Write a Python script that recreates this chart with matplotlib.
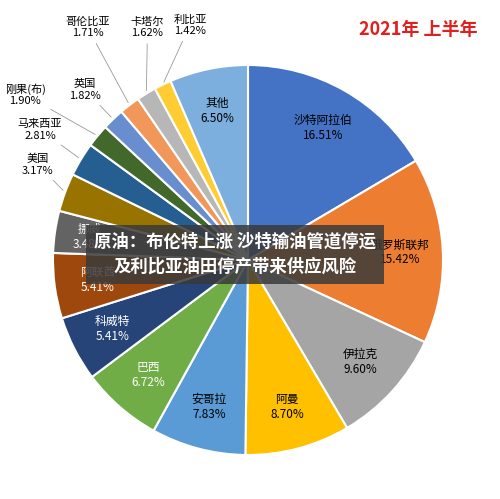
import numpy as np
import matplotlib.pyplot as plt

plt.rcParams['font.family'] = ['Noto Sans CJK SC', 'DejaVu Sans']

names = ['沙特阿拉伯', '俄罗斯联邦', '伊拉克', '阿曼', '安哥拉', '巴西', '科威特', '阿联酋', '挪威',
         '美国', '马来西亚', '刚果(布)', '英国', '哥伦比亚', '卡塔尔', '利比亚', '其他']
shares = [16.51, 15.42, 9.60, 8.70, 7.83, 6.72, 5.41, 5.41, 3.48,
          3.17, 2.81, 1.90, 1.82, 1.71, 1.62, 1.42, 6.50]
colors = ['#4472C4', '#ED7D31', '#A5A5A5', '#FFC000', '#5B9BD5', '#70AD47', '#264478', '#9E480E', '#636363',
          '#997300', '#255E91', '#43682B', '#698ED0', '#F1975A', '#B7B7B7', '#FFCD33', '#7CAFDD']
white_labels = ['巴西', '科威特', '阿联酋', '挪威']
# outside label positions (figure fraction) for small slices
outside = {'美国': (0.075, 0.67), '马来西亚': (0.08, 0.74), '刚果(布)': (0.05, 0.81),
           '英国': (0.17, 0.82), '哥伦比亚': (0.175, 0.945), '卡塔尔': (0.295, 0.945), '利比亚': (0.38, 0.95)}

fig = plt.figure(figsize=(5, 4.99), dpi=100)
ax = fig.add_axes([53/500, 44/499, 390/500, 390/499])
wedges, _ = ax.pie(shares, colors=colors, startangle=90, counterclock=False,
                   wedgeprops=dict(edgecolor='white', linewidth=1.5))
ax.set_xlim(-1, 1); ax.set_ylim(-1, 1)

for w, n, s in zip(wedges, names, shares):
    a = np.deg2rad((w.theta1 + w.theta2) / 2)
    lab = f'{n}\n{s:.2f}%'
    if n in outside:
        ax.annotate(lab, xy=(np.cos(a), np.sin(a)), xytext=outside[n], textcoords='figure fraction',
                    ha='center', va='center', fontsize=8,
                    arrowprops=dict(arrowstyle='-', color='#999999', lw=0.6))
    else:
        r = 0.78 if s > 5 else 0.82
        ax.text(r * np.cos(a), r * np.sin(a), lab, ha='center', va='center', fontsize=8.5,
                color='white' if n in white_labels else 'black')

fig.text(0.955, 0.94, '2021年 上半年', color='#E0201E', fontsize=13, fontweight='bold', ha='right', va='center')
fig.text(0.47, 0.49, '原油：布伦特上涨 沙特输油管道停运\n及利比亚油田停产带来供应风险', color='white',
         fontsize=12.5, fontweight='bold', ha='center', va='center', linespacing=1.5,
         bbox=dict(facecolor='#3a3a3a', alpha=0.85, edgecolor='none', pad=6))
fig.savefig('out.png', dpi=100)
